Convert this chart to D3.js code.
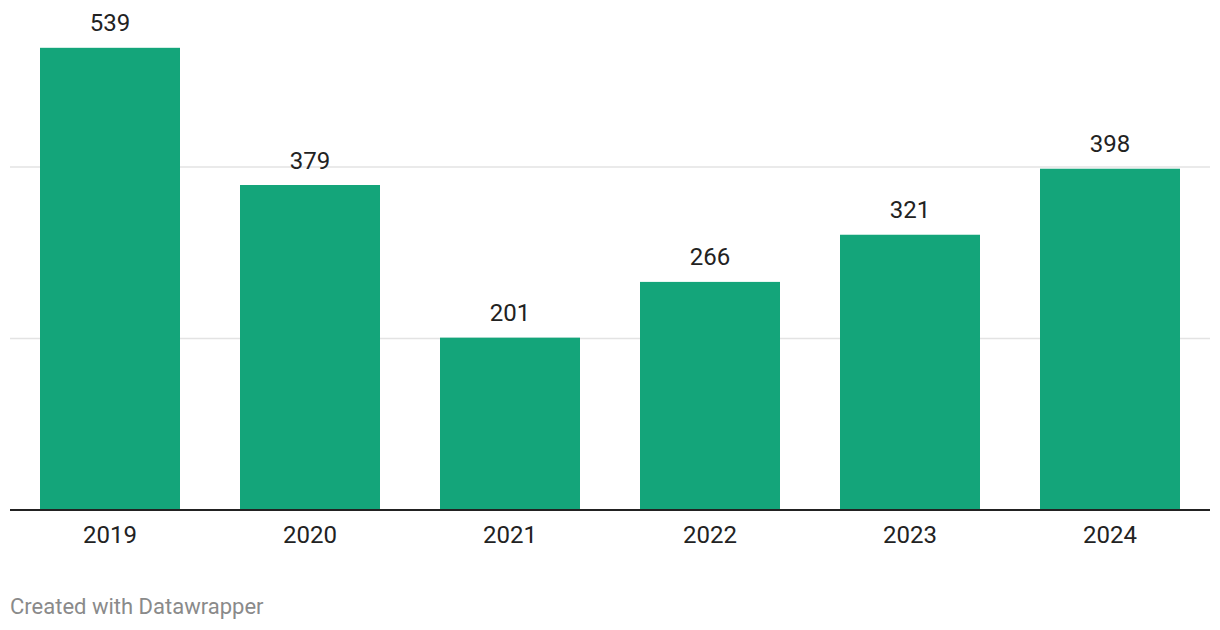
<!DOCTYPE html>
<html><head><meta charset="utf-8">
<script src="https://cdn.jsdelivr.net/npm/d3@7"></script>
<style>body{margin:0;background:#fff;}svg{display:block;font-family:Roboto,"Noto Sans",sans-serif;}</style>
</head><body><svg id="c" width="1220" height="630"></svg>
<script>
const years = ["2019","2020","2021","2022","2023","2024"];
const values = [539,379,201,266,321,398];
const gridTicks = [200,400];

const svg = d3.select("#c");
const x = d3.scaleBand().domain(years).range([10,1210]).paddingInner(0.3).paddingOuter(0.15);
const y = d3.scaleLinear().domain([0,600]).range([510, 510-600*0.8575]);

svg.append("g").selectAll("line").data(gridTicks).join("line")
  .attr("x1",10).attr("x2",1210).attr("y1",d=>y(d)).attr("y2",d=>y(d))
  .attr("stroke","#e3e3e3").attr("stroke-width",1.5);

svg.append("g").selectAll("rect").data(values).join("rect")
  .attr("x",(d,i)=>x(years[i])).attr("width",x.bandwidth())
  .attr("y",d=>y(d)).attr("height",d=>y(0)-y(d)).attr("fill","#14a57a");

svg.append("line").attr("x1",10).attr("x2",1210).attr("y1",y(0)).attr("y2",y(0))
  .attr("stroke","#222").attr("stroke-width",2);

svg.append("g").selectAll("text").data(values).join("text")
  .attr("x",(d,i)=>x(years[i])+x.bandwidth()/2).attr("y",d=>y(d)-16.5)
  .attr("text-anchor","middle").attr("font-size",24).attr("fill","#222").text(d=>d);

svg.append("g").selectAll("text").data(years).join("text")
  .attr("x",d=>x(d)+x.bandwidth()/2).attr("y",542.5)
  .attr("text-anchor","middle").attr("font-size",24).attr("fill","#222").text(d=>d);

svg.append("text").attr("x",10).attr("y",613.5).attr("font-size",22).attr("fill","#8a8a8a")
  .text("Created with Datawrapper");
</script></body></html>
